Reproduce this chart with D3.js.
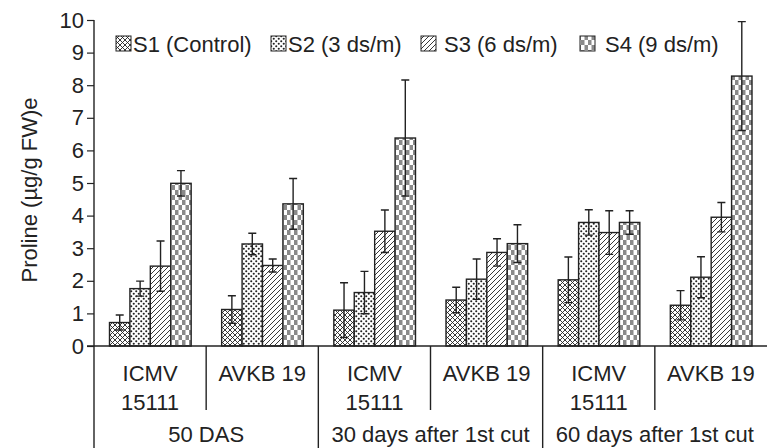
<!DOCTYPE html>
<html><head><meta charset="utf-8">
<script src="https://cdn.jsdelivr.net/npm/d3@7"></script>
<style>body{margin:0;background:#fff}svg{display:block}text{font-family:"Liberation Sans",Arial,sans-serif;fill:#222}</style>
</head><body><svg id="c" width="767" height="448"></svg>
<script>
const periods = ["50 DAS", "30 days after 1st cut", "60 days after 1st cut"];
const cultivars = ["ICMV 15111", "AVKB 19"];
const groups = ["50 DAS|ICMV 15111","50 DAS|AVKB 19","30|ICMV 15111","30|AVKB 19","60|ICMV 15111","60|AVKB 19"];
const series = ["S1 (Control)", "S2 (3 ds/m)", "S3 (6 ds/m)", "S4 (9 ds/m)"];
const S1 = [0.72, 1.12, 1.10, 1.41, 2.03, 1.25];
const S2 = [1.76, 3.13, 1.64, 2.05, 3.79, 2.11];
const S3 = [2.45, 2.47, 3.52, 2.87, 3.48, 3.95];
const S4 = [4.99, 4.36, 6.38, 3.14, 3.79, 8.28];
const E1 = [0.23, 0.42, 0.84, 0.39, 0.70, 0.45];
const E2 = [0.23, 0.33, 0.65, 0.62, 0.39, 0.63];
const E3 = [0.77, 0.20, 0.65, 0.42, 0.67, 0.45];
const E4 = [0.39, 0.78, 1.78, 0.58, 0.36, 1.67];
const yTicks = [0,1,2,3,4,5,6,7,8,9,10];
const vals = [S1,S2,S3,S4], errs = [E1,E2,E3,E4];

const svg = d3.select("#c");
const defs = svg.append("defs");
const ink = "#222";
const FS = "22px";
// patterns
let p = defs.append("pattern").attr("id","p0").attr("patternUnits","userSpaceOnUse").attr("width",5).attr("height",5);
p.append("rect").attr("width",5).attr("height",5).attr("fill","#fff");
p.append("path").attr("d","M0,0L5,5M5,0L0,5M-1,4L1,6M4,-1L6,1M-1,1L1,-1M4,6L6,4").attr("stroke",ink).attr("stroke-width",0.9);
p = defs.append("pattern").attr("id","p1").attr("patternUnits","userSpaceOnUse").attr("width",5).attr("height",5);
p.append("rect").attr("width",5).attr("height",5).attr("fill","#fff");
p.append("circle").attr("cx",1.25).attr("cy",1.25).attr("r",1.05).attr("fill",ink);
p.append("circle").attr("cx",3.75).attr("cy",3.75).attr("r",1.05).attr("fill",ink);
p = defs.append("pattern").attr("id","p2").attr("patternUnits","userSpaceOnUse").attr("width",5).attr("height",5);
p.append("rect").attr("width",5).attr("height",5).attr("fill","#fff");
p.append("path").attr("d","M0,5L5,0M-1,1L1,-1M4,6L6,4").attr("stroke",ink).attr("stroke-width",0.9);
p = defs.append("pattern").attr("id","p3").attr("patternUnits","userSpaceOnUse").attr("width",7).attr("height",10);
p.append("rect").attr("width",7).attr("height",10).attr("fill","#fff");
p.append("rect").attr("width",3.5).attr("height",5).attr("fill","#8a8a8a");
p.append("rect").attr("x",3.5).attr("y",5).attr("width",3.5).attr("height",5).attr("fill","#8a8a8a");

const x0 = d3.scaleBand().domain(groups).range([94, 767]).padding(0);
const x1 = d3.scaleBand().domain(series).range([15.5, x0.bandwidth()-15]).padding(0);
const y = d3.scaleLinear().domain([0,10]).range([346, 20]);

// bars
series.forEach((s,si)=>{
  const g = svg.append("g");
  g.selectAll("rect").data(groups).join("rect")
    .attr("x",(d)=>x0(d)+x1(s))
    .attr("y",(d,i)=>y(vals[si][i]))
    .attr("width",x1.bandwidth())
    .attr("height",(d,i)=>y(0)-y(vals[si][i]))
    .attr("fill",`url(#p${si})`).attr("stroke",ink).attr("stroke-width",1.4);
  const cw = 4;
  g.selectAll("path.err").data(groups).join("path").attr("class","err")
    .attr("d",(d,i)=>{
      const cx = x0(d)+x1(s)+x1.bandwidth()/2;
      const t = y(vals[si][i]+errs[si][i]), b = y(vals[si][i]-errs[si][i]);
      return `M${cx},${t}V${b}M${cx-cw},${t}H${cx+cw}M${cx-cw},${b}H${cx+cw}`;
    })
    .attr("stroke",ink).attr("stroke-width",1.4).attr("fill","none");
});

// y axis
const ya = svg.append("g").attr("transform","translate(94,0)")
  .call(d3.axisLeft(y).tickValues(yTicks).tickSize(7).tickPadding(3).tickFormat(d3.format("d")));
ya.select(".domain").remove();
ya.selectAll("line").attr("stroke",ink).attr("stroke-width",1.2);
ya.selectAll("text").style("font-size",FS).attr("fill",ink);
svg.append("line").attr("x1",94).attr("x2",94).attr("y1",20).attr("y2",448).attr("stroke",ink).attr("stroke-width",1.4);
svg.append("line").attr("x1",87).attr("x2",767).attr("y1",346).attr("y2",346).attr("stroke",ink).attr("stroke-width",1.4);

// x separators
groups.forEach((g,i)=>{
  if(i===0) return;
  const xx = x0(g);
  svg.append("line").attr("x1",xx).attr("x2",xx).attr("y1",346).attr("y2", i%2===0 ? 448 : 410)
    .attr("stroke",ink).attr("stroke-width",1.4);
});
// cultivar labels
groups.forEach((g,i)=>{
  const cx = x0(g)+x0.bandwidth()/2;
  const name = cultivars[i%2];
  const t = svg.append("text").attr("text-anchor","middle").style("font-size",FS).attr("x",cx).attr("y",381);
  if(name==="ICMV 15111"){
    t.text("ICMV");
    svg.append("text").attr("text-anchor","middle").style("font-size",FS).attr("x",cx).attr("y",410).text("15111");
  } else t.text(name);
});
// period labels
periods.forEach((pn,i)=>{
  const cx = x0(groups[i*2]) + x0.bandwidth();
  svg.append("text").attr("text-anchor","middle").style("font-size",FS).attr("x",cx).attr("y",442).text(pn);
});
// y title
svg.append("text").attr("transform","translate(37,190) rotate(-90)").attr("text-anchor","middle")
  .style("font-size",FS).text("Proline (µg/g FW)e");

// legend
const lx = [116, 271, 421, 580];
const tx = [133, 288, 444, 605];
series.forEach((s,si)=>{
  svg.append("rect").attr("x",lx[si]).attr("y",36).attr("width",15).attr("height",15)
    .attr("fill",`url(#p${si})`).attr("stroke",ink).attr("stroke-width",1);
  svg.append("text").attr("x",tx[si]).attr("y",52).style("font-size",FS).text(s);
});
</script></body></html>
